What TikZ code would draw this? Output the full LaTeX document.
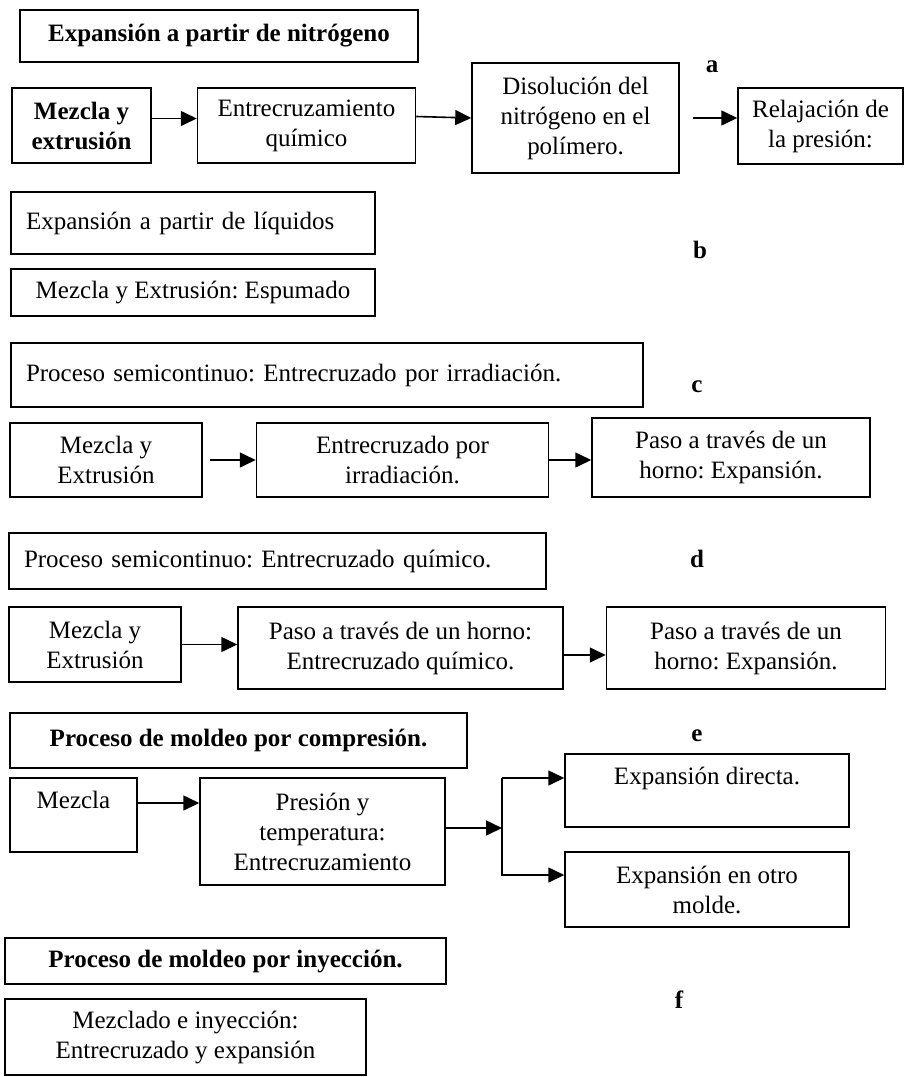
\documentclass[tikz,border=0pt]{standalone}
\usepackage{fontspec}
\setmainfont{Liberation Serif}
\usetikzlibrary{arrows.meta,positioning}
\frenchspacing

\begin{document}
\begin{tikzpicture}[
x=1pt, y=-1pt,
font=\fontsize{25}{30}\selectfont,
box/.style={draw, line width=1.5pt, align=center, inner sep=0pt},
lbox/.style={box, align=left, inner xsep=15pt},
bold/.style={font=\fontsize{25}{30}\selectfont\bfseries},
tag/.style={font=\fontsize{25}{30}\selectfont\bfseries},
arrow/.style={-{Triangle[length=16pt,width=15pt]}, line width=1.6pt}
]
\useasboundingbox (0,0) rectangle (919,1077);

% a: nitrogeno
\node[box, minimum width=398pt, minimum height=52pt, bold] (titA) at (219,36) {Expansión a partir de nitrógeno};
\node[tag] (tagA) at (712,67) {a};
\node[box, minimum width=139pt, minimum height=75pt, bold] (mezA) at (81.5,125.5) {Mezcla y\\extrusión};
\node[box, minimum width=218pt, minimum height=75pt, right=45pt of mezA] (entA) {Entrecruzamiento\\químico};
\node[box, minimum width=207pt, minimum height=110pt] (disA) at (575.5,118) {Disolución del\\nitrógeno en el\\polímero.};
\node[box, minimum width=165pt, minimum height=76pt] (relA) at (820.5,126) {Relajación de\\la presión:};
\draw[arrow] ([yshift=7pt]mezA.east) -- ([yshift=7pt]entA.west);
\draw[arrow] ([yshift=9pt]entA.east) -- (disA.west);
\draw[arrow] ([xshift=13pt]disA.east) -- (relA.west |- disA.east);

% b: liquidos
\node[lbox, text width=334pt, minimum height=62pt] (liqB) at (193,223) {Expansión a partir de líquidos};
\node[tag] (tagB) at (700,250) {b};
\node[box, minimum width=364pt, minimum height=47pt] (espB) at (193,292.5) {Mezcla y Extrusión: Espumado};

% c: irradiacion
\node[lbox, text width=602pt, minimum height=64pt] (titC) at (327,375) {Proceso semicontinuo: Entrecruzado por irradiación.};
\node[tag] (tagC) at (697,387) {c};
\node[box, minimum width=192pt, minimum height=74pt] (mezC) at (106,460) {Mezcla y\\Extrusión};
\node[box, minimum width=292pt, minimum height=74pt, right=53pt of mezC] (irrC) {Entrecruzado por\\irradiación.};
\node[box, minimum width=278pt, minimum height=79pt] (horC) at (731,457.5) {Paso a través de un\\horno: Expansión.};
\draw[arrow] ([xshift=7pt]mezC.east) -- (irrC.west);
\draw[arrow] (irrC.east) -- (irrC.east -| horC.west);

% d: quimico
\node[lbox, text width=507pt, minimum height=56pt] (titD) at (277.5,561) {Proceso semicontinuo: Entrecruzado químico.};
\node[tag] (tagD) at (697,559) {d};
\node[box, minimum width=172pt, minimum height=75pt] (mezD) at (95,644.5) {Mezcla y\\Extrusión};
\node[box, minimum width=325pt, minimum height=82pt] (entD) at (400.5,648) {Paso a través de un horno:\\Entrecruzado químico.};
\node[box, minimum width=279pt, minimum height=82pt, right=42pt of entD] (horD) {Paso a través de un\\horno: Expansión.};
\draw[arrow] (mezD.east) -- (mezD.east -| entD.west);
\draw[arrow] ([yshift=-7pt]entD.east) -- ([yshift=-7pt]horD.west);

% e: compresion
\node[box, minimum width=457pt, minimum height=55pt, bold] (titE) at (238.5,740.5) {Proceso de moldeo por compresión.};
\node[tag] (tagE) at (697,736) {e};
\node[box, minimum width=127pt, minimum height=74pt] (mezE) at (73.5,815) {Mezcla\\ \mbox{}};
\node[box, minimum width=245pt, minimum height=107pt] (preE) at (322.5,831.5) {Presión y\\temperatura:\\Entrecruzamiento};
\node[box, minimum width=284pt, minimum height=73pt] (dirE) at (707,790.5) {Expansión directa.\\ \mbox{}};
\node[box, minimum width=284pt, minimum height=75pt] (otrE) at (707,889.5) {Expansión en otro\\molde.};
\coordinate (split) at (502,828);
\coordinate (mezOut) at ([yshift=12pt]mezE.east);
\coordinate (dirIn) at ([yshift=12.5pt]dirE.west);
\coordinate (otrIn) at ([yshift=14.5pt]otrE.west);
\draw[arrow] (mezOut) -- (mezOut -| preE.west);
\draw[arrow] ([yshift=3.5pt]preE.east) -- (split);
\draw[arrow] (split |- dirIn) -- (dirIn);
\draw[arrow] (split |- dirIn) -- (split |- otrIn) -- (otrIn);

% f: inyeccion
\node[box, minimum width=441pt, minimum height=46pt, bold] (titF) at (225.5,961) {Proceso de moldeo por inyección.};
\node[tag] (tagF) at (679,1000) {f};
\node[box, minimum width=361pt, minimum height=76pt] (mixF) at (185.5,1037) {Mezclado e inyección:\\Entrecruzado y expansión};
\end{tikzpicture}
\end{document}
